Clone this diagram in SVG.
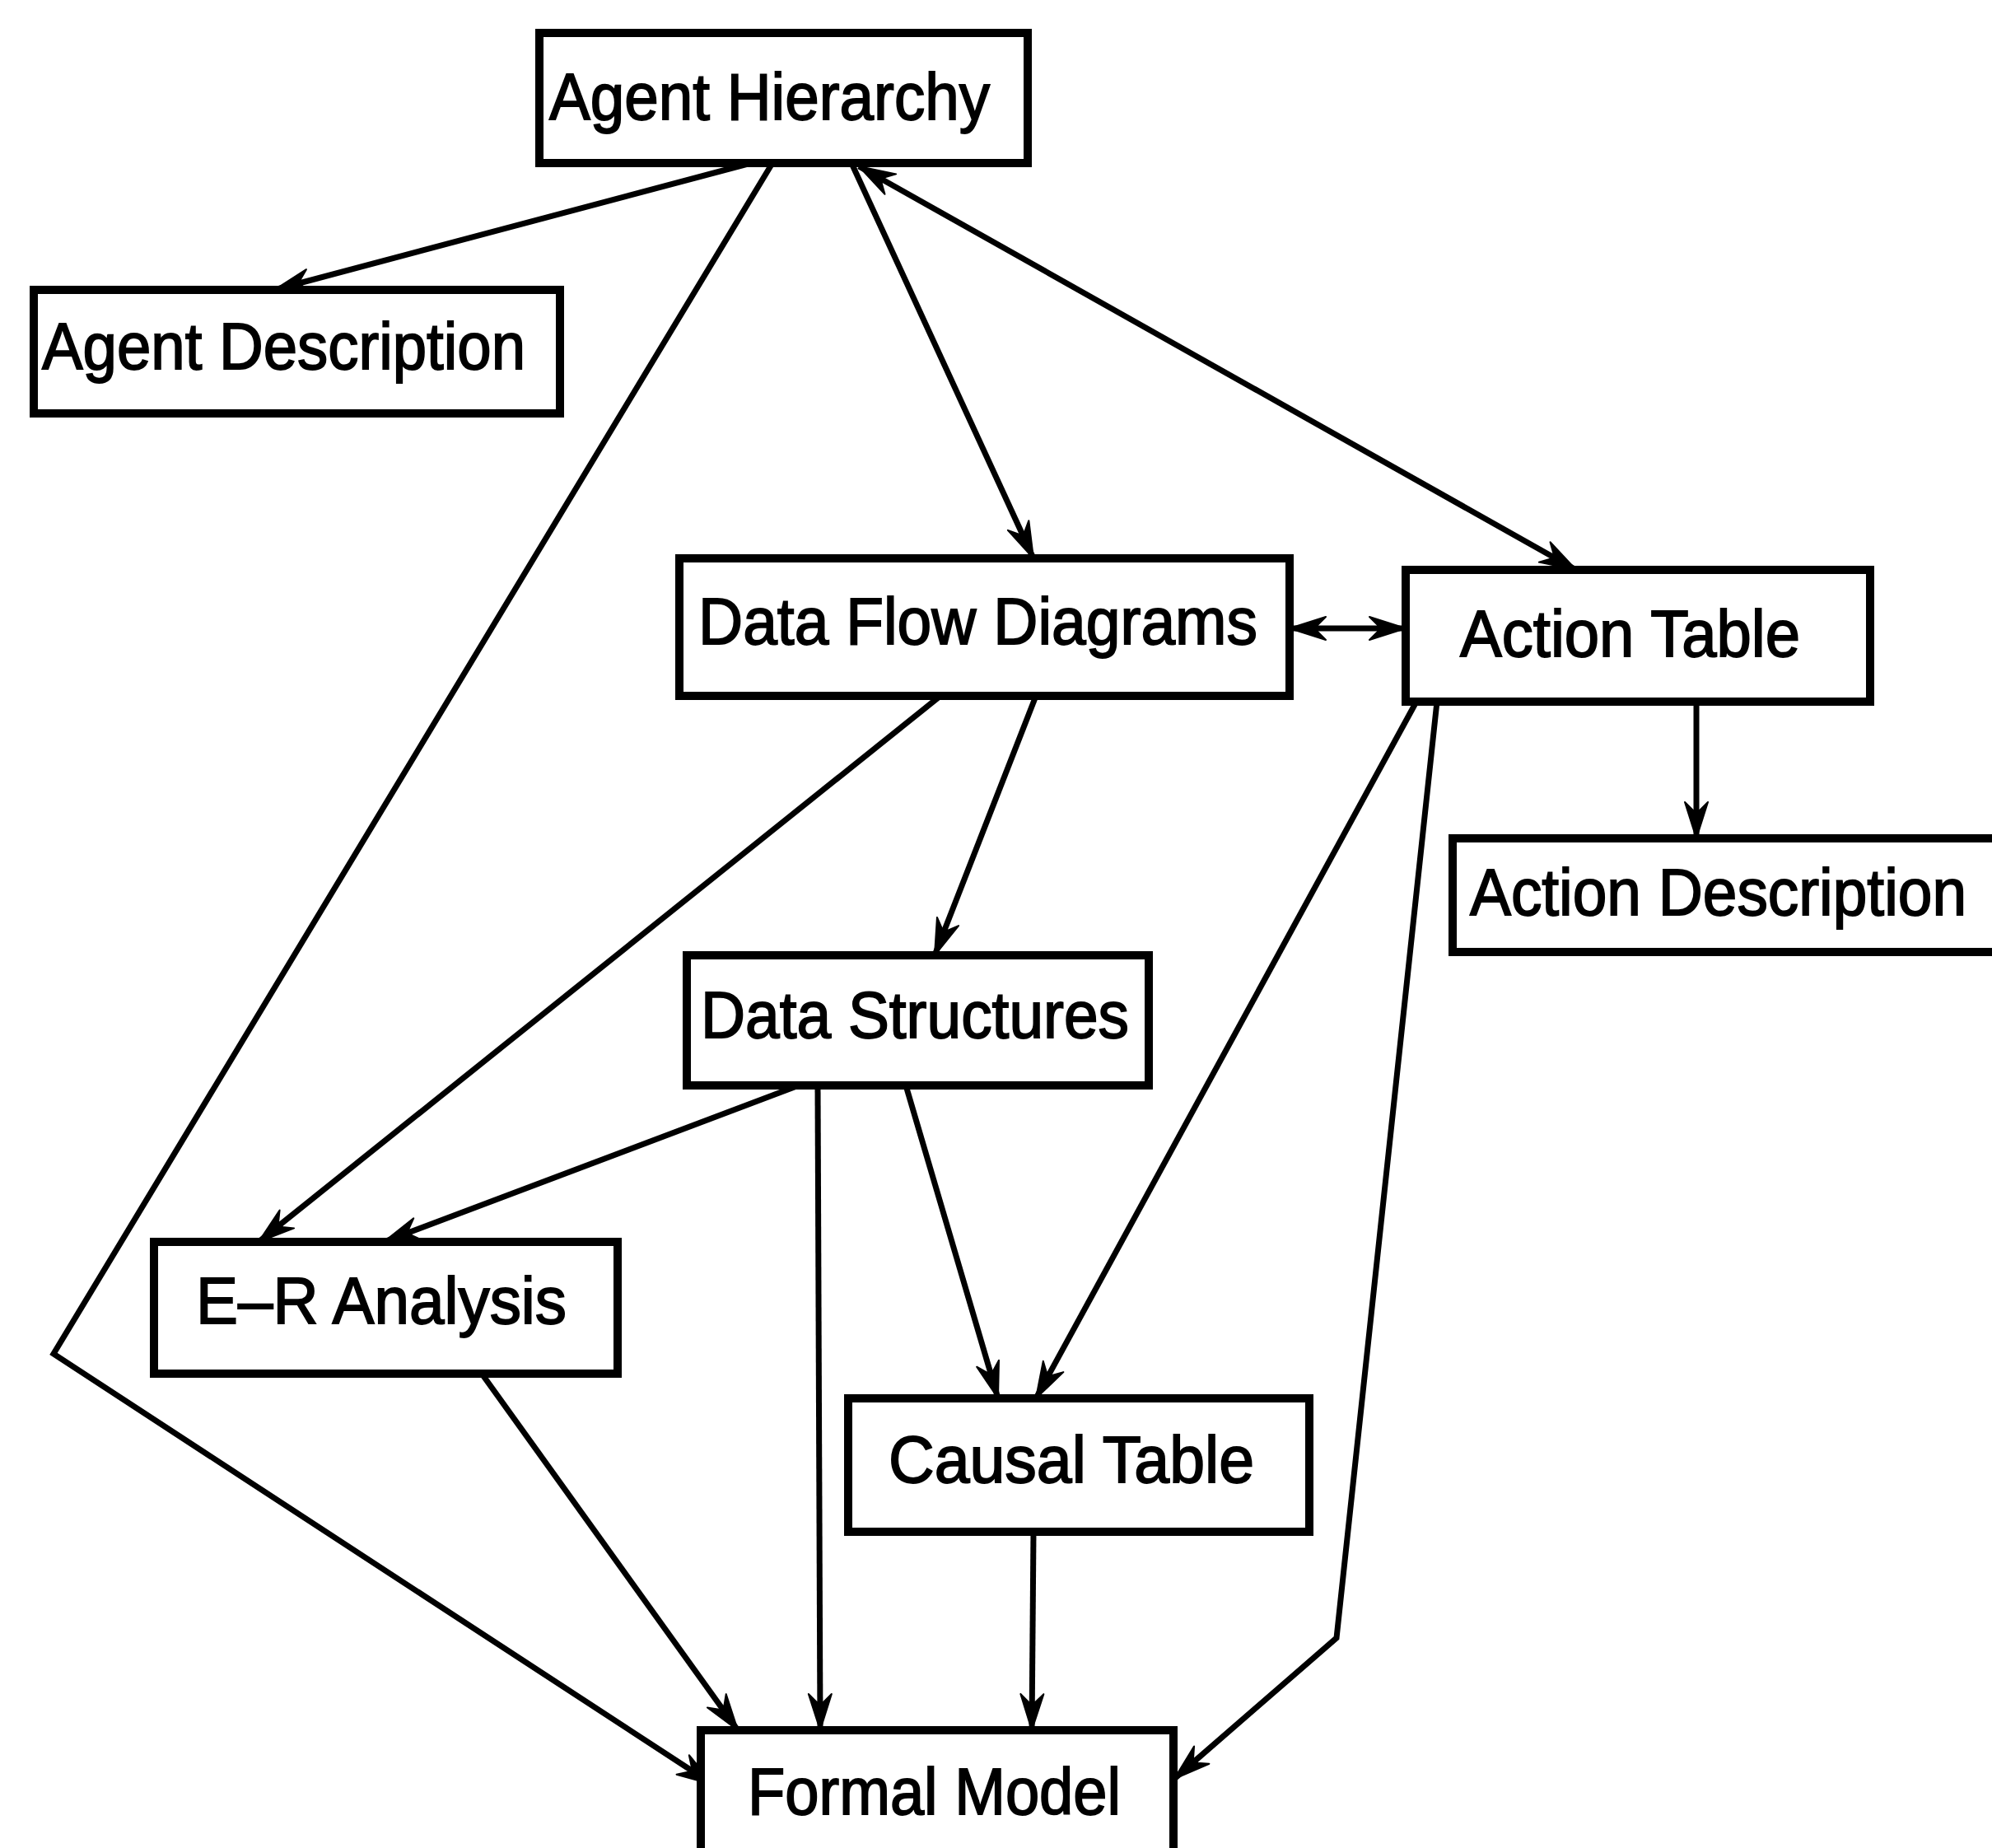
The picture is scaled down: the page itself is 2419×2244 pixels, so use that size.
<svg xmlns="http://www.w3.org/2000/svg" width="2419" height="2244" viewBox="0 0 2419 2244">
<defs>
<style>
.box{fill:#fff;stroke:#000;stroke-width:10}
.lbl{font-family:"Liberation Sans",Arial,sans-serif;font-size:80px;fill:#000;stroke:#000;stroke-width:1.8}
.edge{fill:none;stroke:#000;stroke-width:7;stroke-linejoin:miter}
</style>
<marker id="ah" markerUnits="userSpaceOnUse" viewBox="-46 -17 48 34" refX="0" refY="0" markerWidth="48" markerHeight="34" orient="auto-start-reverse">
<path d="M0,0 L-44,-14 L-34,-4 L-34,4 L-44,14 Z" fill="#000" stroke="#000" stroke-width="2" stroke-linejoin="round"/>
</marker>
</defs>
<rect width="2419" height="2244" fill="#fff"/>
<g id="connectors">
<line class="edge" x1="912" y1="198" x2="333" y2="352" marker-end="url(#ah)"/>
<polyline class="edge" points="938,198 65,1644 866,2167" marker-end="url(#ah)"/>
<line class="edge" x1="1034" y1="198" x2="1255" y2="678" marker-end="url(#ah)"/>
<line class="edge" x1="1043" y1="202" x2="1914" y2="692" marker-start="url(#ah)" marker-end="url(#ah)"/>
<line class="edge" x1="1566" y1="763" x2="1707" y2="763" marker-start="url(#ah)" marker-end="url(#ah)"/>
<line class="edge" x1="1142" y1="845" x2="314" y2="1508" marker-end="url(#ah)"/>
<line class="edge" x1="1258" y1="845" x2="1135" y2="1160" marker-end="url(#ah)"/>
<line class="edge" x1="970" y1="1318" x2="466" y2="1508" marker-end="url(#ah)"/>
<line class="edge" x1="993" y1="1318" x2="996" y2="2101" marker-end="url(#ah)"/>
<line class="edge" x1="1100" y1="1318" x2="1212" y2="1698" marker-end="url(#ah)"/>
<line class="edge" x1="1720" y1="852" x2="1258" y2="1698" marker-end="url(#ah)"/>
<polyline class="edge" points="1745,852 1623,1989 1426,2160" marker-end="url(#ah)"/>
<line class="edge" x1="585" y1="1668" x2="896" y2="2101" marker-end="url(#ah)"/>
<line class="edge" x1="1255" y1="1860" x2="1253" y2="2101" marker-end="url(#ah)"/>
<line class="edge" x1="2060" y1="852" x2="2060" y2="1018" marker-end="url(#ah)"/>
</g>
<g id="agent-hierarchy">
<rect class="box" x="655" y="40" width="593" height="158"/>
<text class="lbl" x="667" y="145" textLength="535" lengthAdjust="spacingAndGlyphs">Agent Hierarchy</text>
</g>
<g id="agent-description">
<rect class="box" x="41" y="352" width="639" height="150"/>
<text class="lbl" x="51" y="448" textLength="587" lengthAdjust="spacingAndGlyphs">Agent Description</text>
</g>
<g id="data-flow-diagrams">
<rect class="box" x="825" y="678" width="741" height="167"/>
<text class="lbl" x="848" y="782" textLength="679" lengthAdjust="spacingAndGlyphs">Data Flow Diagrams</text>
</g>
<g id="action-table">
<rect class="box" x="1707" y="692" width="564" height="160"/>
<text class="lbl" x="1773" y="797" textLength="413" lengthAdjust="spacingAndGlyphs">Action Table</text>
</g>
<g id="action-description">
<rect class="box" x="1764" y="1018" width="680" height="138"/>
<text class="lbl" x="1785" y="1111" textLength="603" lengthAdjust="spacingAndGlyphs">Action Description</text>
</g>
<g id="data-structures">
<rect class="box" x="834" y="1160" width="561" height="158"/>
<text class="lbl" x="851" y="1260" textLength="520" lengthAdjust="spacingAndGlyphs">Data Structures</text>
</g>
<g id="er-analysis">
<rect class="box" x="187" y="1508" width="563" height="160"/>
<text class="lbl" x="238" y="1607" textLength="450" lengthAdjust="spacingAndGlyphs">E–R Analysis</text>
</g>
<g id="causal-table">
<rect class="box" x="1030" y="1698" width="560" height="162"/>
<text class="lbl" x="1079" y="1800" textLength="444" lengthAdjust="spacingAndGlyphs">Causal Table</text>
</g>
<g id="formal-model">
<rect class="box" x="851" y="2101" width="574" height="170"/>
<text class="lbl" x="908" y="2203" textLength="453" lengthAdjust="spacingAndGlyphs">Formal Model</text>
</g>
</svg>
